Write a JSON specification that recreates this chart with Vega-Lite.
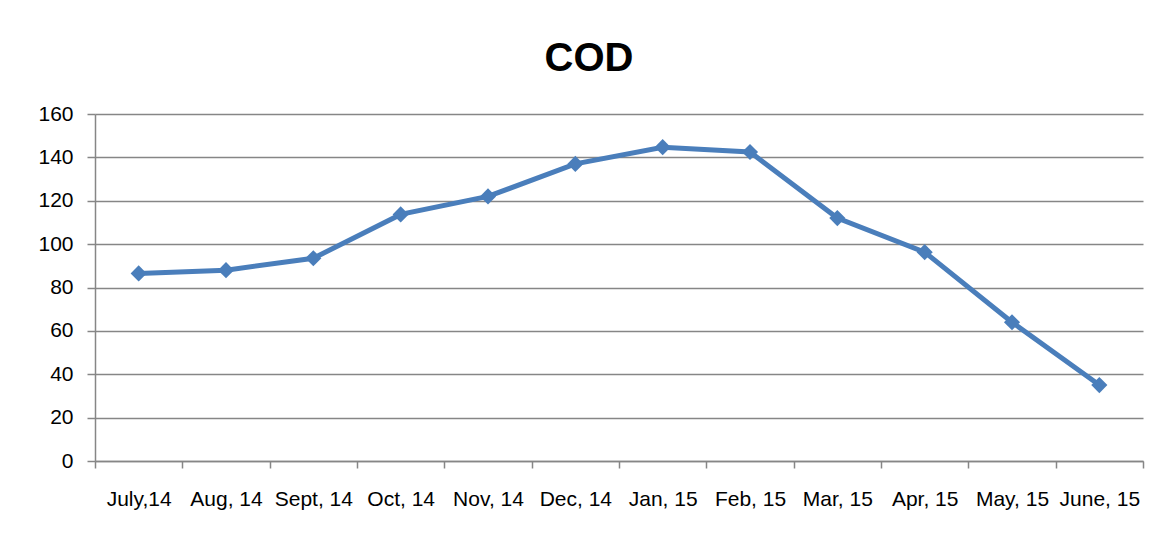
{
  "$schema": "https://vega.github.io/schema/vega-lite/v6.json",
  "width": 1048,
  "height": 347,
  "autosize": {"type": "none"},
  "padding": {"left": 95, "top": 114, "right": 18, "bottom": 76},
  "background": "white",
  "title": {"text": "COD", "fontSize": 40, "fontWeight": "bold", "font": "Liberation Sans", "color": "black", "anchor": "middle", "offset": 24, "dx": -30},
  "data": {"values": [
    {"month": "July,14", "cod": 86.5},
    {"month": "Aug, 14", "cod": 88},
    {"month": "Sept, 14", "cod": 93.5},
    {"month": "Oct, 14", "cod": 113.7},
    {"month": "Nov, 14", "cod": 122},
    {"month": "Dec, 14", "cod": 137},
    {"month": "Jan, 15", "cod": 144.7},
    {"month": "Feb, 15", "cod": 142.5},
    {"month": "Mar, 15", "cod": 112},
    {"month": "Apr, 15", "cod": 96.3},
    {"month": "May, 15", "cod": 64},
    {"month": "June, 15", "cod": 35}
  ]},
  "config": {"view": {"stroke": null}},
  "mark": {"type": "line", "color": "#4a7ebb", "strokeWidth": 5, "point": {"shape": "diamond", "size": 260, "filled": true, "color": "#4a7ebb"}},
  "encoding": {
    "x": {"field": "month", "type": "ordinal", "sort": null, "scale": {"type": "band", "paddingInner": 0, "paddingOuter": 0},
      "axis": {"title": null, "labelAngle": 0, "tickBand": "extent", "grid": false, "domainColor": "#868686", "domainWidth": 1.5, "tickColor": "#868686", "tickWidth": 1.5, "tickSize": 7, "labelPadding": 20, "labelFontSize": 21, "labelFont": "Liberation Sans", "labelColor": "black"}},
    "y": {"field": "cod", "type": "quantitative", "scale": {"domain": [0, 160]},
      "axis": {"title": null, "values": [0, 20, 40, 60, 80, 100, 120, 140, 160], "grid": true, "gridColor": "#868686", "gridWidth": 1.5, "domainColor": "#868686", "domainWidth": 1.5, "tickColor": "#868686", "tickWidth": 1.5, "tickSize": 8, "labelPadding": 14, "labelFontSize": 21, "labelFont": "Liberation Sans", "labelColor": "black"}}
  }
}
